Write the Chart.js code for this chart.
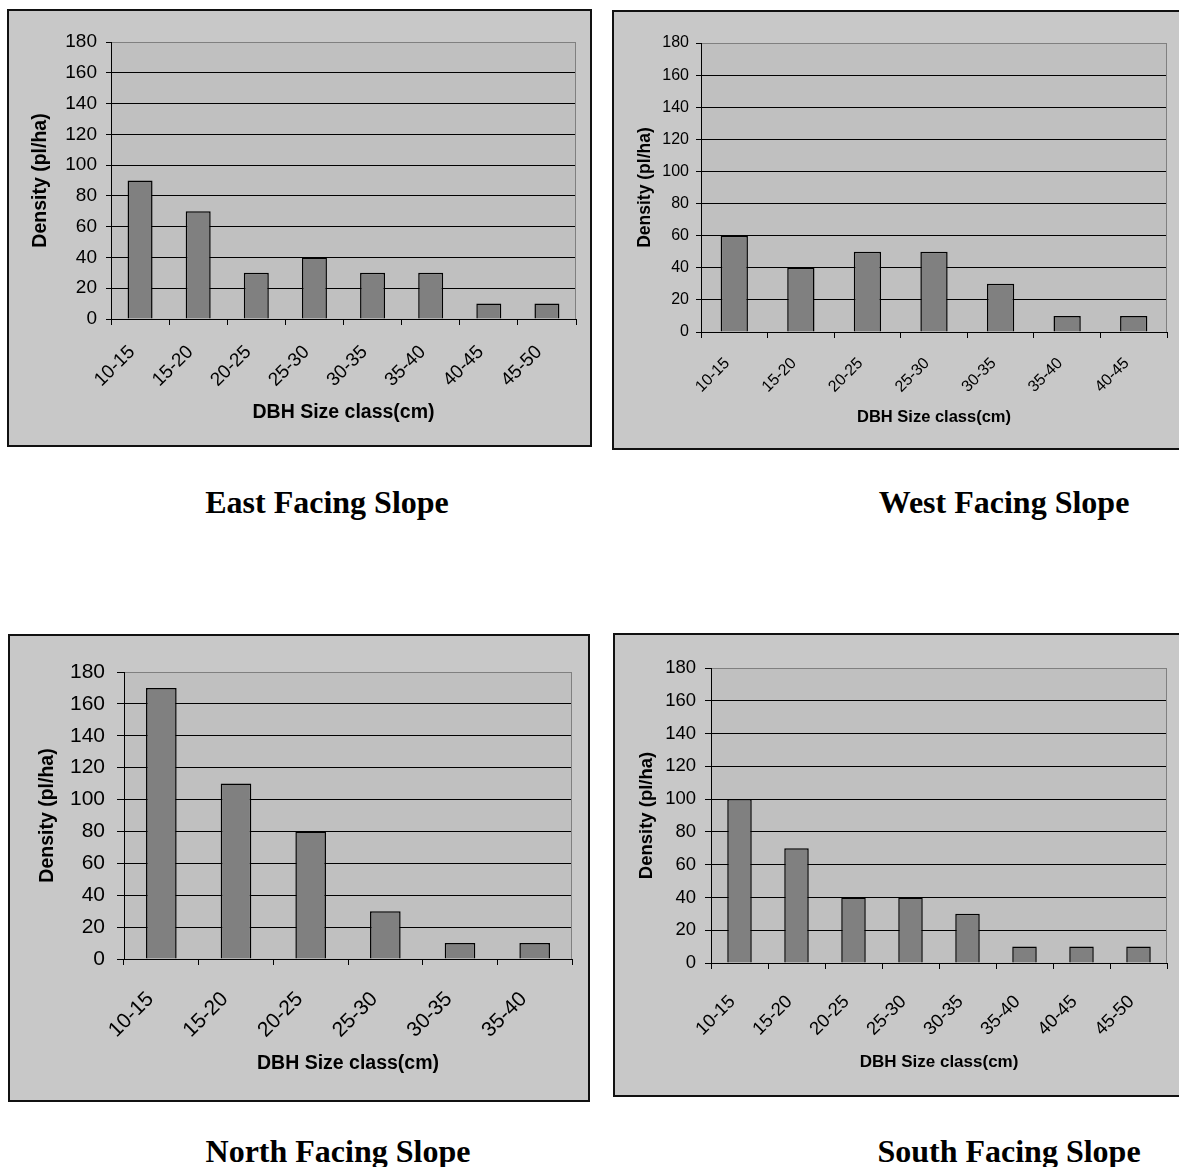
<!DOCTYPE html>
<html>
<head>
<meta charset="utf-8">
<script src="https://cdn.jsdelivr.net/npm/chart.js@4/dist/chart.umd.min.js"></script>
<style>
  html, body { margin: 0; padding: 0; background: #fff; }
  body { width: 1179px; height: 1167px; position: relative; overflow: hidden; }
  .frame { position: absolute; box-sizing: border-box; border: 2px solid #111; background: #c8c8c8; }
  .frame canvas { position: absolute; left: 0; top: 0; }
  .caption { position: absolute; font-family: "Liberation Serif", "Times New Roman", serif; font-weight: bold;
             font-size: 32px; color: #000; white-space: nowrap; transform: translateX(-50%); line-height: 1; }
</style>
</head>
<body>
<div class="frame" id="fEast"><canvas id="cEast"></canvas></div>
<div class="frame" id="fWest"><canvas id="cWest"></canvas></div>
<div class="frame" id="fNorth"><canvas id="cNorth"></canvas></div>
<div class="frame" id="fSouth"><canvas id="cSouth"></canvas></div>
<div class="caption" id="tEast">East Facing Slope</div>
<div class="caption" id="tWest">West Facing Slope</div>
<div class="caption" id="tNorth">North Facing Slope</div>
<div class="caption" id="tSouth">South Facing Slope</div>
<script>
// DBH size classes (cm) and stand density (plants per hectare) by slope aspect
const classesEast  = ['10-15', '15-20', '20-25', '25-30', '30-35', '35-40', '40-45', '45-50'];
const densityEast  = [90, 70, 30, 40, 30, 30, 10, 10];

const classesWest  = ['10-15', '15-20', '20-25', '25-30', '30-35', '35-40', '40-45'];
const densityWest  = [60, 40, 50, 50, 30, 10, 10];

const classesNorth = ['10-15', '15-20', '20-25', '25-30', '30-35', '35-40'];
const densityNorth = [170, 110, 80, 30, 10, 10];

const classesSouth = ['10-15', '15-20', '20-25', '25-30', '30-35', '35-40', '40-45', '45-50'];
const densitySouth = [100, 70, 40, 40, 30, 10, 10, 10];

const densityTicks = [0, 20, 40, 60, 80, 100, 120, 140, 160, 180];
const yAxisTitle = 'Density (pl/ha)';
const xAxisTitle = 'DBH Size class(cm)';

const SANS = '"Liberation Sans", Arial, sans-serif';

// Frame boxes and plot geometry for each panel (page pixels)
const panels = [
  { id: 'East', labels: classesEast, values: densityEast,
    frame: { x: 7, y: 9, w: 585, h: 438 }, caption: { x: 327, y: 486 },
    plot: { l: 102, t: 31, r: 567, b: 308 }, yTitleX: 32, xTitleY: 402,
    tickFont: 19, yTitleFont: 19.5, xTitleFont: 19.5, yTickPad: 9, yTickLen: 5, xPad: 16, xOffset: -8, bar: 0.43 },
  { id: 'West', labels: classesWest, values: densityWest,
    frame: { x: 612, y: 10, w: 578, h: 440 }, caption: { x: 1004, y: 486 },
    plot: { l: 87, t: 31, r: 553, b: 320 }, yTitleX: 31, xTitleY: 405,
    tickFont: 16, yTitleFont: 17.5, xTitleFont: 16.5, yTickPad: 7, yTickLen: 5, xPad: 16, xOffset: -7, bar: 0.41 },
  { id: 'North', labels: classesNorth, values: densityNorth,
    frame: { x: 8, y: 634, w: 582, h: 468 }, caption: { x: 338, y: 1135 },
    plot: { l: 114, t: 36, r: 562, b: 323 }, yTitleX: 38, xTitleY: 428,
    tickFont: 21, yTitleFont: 19.5, xTitleFont: 19.5, yTickPad: 12, yTickLen: 7, xPad: 22, xOffset: -11, bar: 0.41 },
  { id: 'South', labels: classesSouth, values: densitySouth,
    frame: { x: 613, y: 633, w: 577, h: 464 }, caption: { x: 1009, y: 1135 },
    plot: { l: 96, t: 33, r: 552, b: 328 }, yTitleX: 32, xTitleY: 427,
    tickFont: 18.5, yTitleFont: 18.5, xTitleFont: 17, yTickPad: 9, yTickLen: 6, xPad: 22, xOffset: -7, bar: 0.43 }
];

// Plot-area fill and the grey right-hand border of the plot area
const plotBackground = {
  id: 'plotBackground',
  beforeDraw(chart) {
    const { ctx, chartArea: a } = chart;
    ctx.save();
    ctx.fillStyle = '#c0c0c0';
    ctx.fillRect(a.left, a.top, a.right - a.left, a.bottom - a.top);
    ctx.restore();
  },
  afterDatasetsDraw(chart) {
    const { ctx, chartArea: a } = chart;
    ctx.save();
    ctx.strokeStyle = '#808080';
    ctx.lineWidth = 1;
    ctx.beginPath();
    const x = Math.round(a.right) - 0.5;
    ctx.moveTo(x, a.top);
    ctx.lineTo(x, a.bottom);
    ctx.stroke();
    ctx.restore();
  }
};

panels.forEach(p => {
  const frame = document.getElementById('f' + p.id);
  Object.assign(frame.style, {
    left: p.frame.x + 'px', top: p.frame.y + 'px',
    width: p.frame.w + 'px', height: p.frame.h + 'px'
  });
  const cap = document.getElementById('t' + p.id);
  cap.style.left = p.caption.x + 'px';
  cap.style.top = p.caption.y + 'px';

  const cw = p.frame.w - 4, ch = p.frame.h - 4;
  const canvas = document.getElementById('c' + p.id);
  canvas.width = cw; canvas.height = ch;

  const padLeft = p.yTitleX - p.yTitleFont * 0.6;
  const padBottom = ch - p.xTitleY - p.xTitleFont * 0.6;
  const yWidth = p.plot.l - padLeft;
  const xHeight = (ch - padBottom) - p.plot.b;

  new Chart(canvas, {
    type: 'bar',
    data: {
      labels: p.labels,
      datasets: [{
        data: p.values,
        backgroundColor: '#808080',
        borderColor: '#000',
        borderWidth: 1.5,
        borderSkipped: 'start',
        barPercentage: p.bar,
        categoryPercentage: 1.0
      }]
    },
    options: {
      responsive: false,
      animation: false,
      devicePixelRatio: 1,
      layout: { padding: { left: padLeft, top: p.plot.t, right: cw - p.plot.r, bottom: padBottom } },
      plugins: { legend: { display: false }, tooltip: { enabled: false }, title: { display: false } },
      scales: {
        x: {
          offset: true,
          grid: { display: true, drawOnChartArea: false, drawTicks: true, tickLength: 6, color: '#000', offset: true },
          border: { display: true, color: '#000', width: 1, z: 1 },
          ticks: {
            autoSkip: false, minRotation: 45, maxRotation: 45, color: '#000',
            padding: p.xPad, labelOffset: p.xOffset,
            font: { family: SANS, size: p.tickFont }
          },
          title: { display: true, text: xAxisTitle, color: '#000', padding: 0,
                   font: { family: SANS, size: p.xTitleFont, weight: 'bold' } },
          afterFit(s) { s.height = xHeight; }
        },
        y: {
          min: 0, max: 180,
          afterBuildTicks(s) { s.ticks = densityTicks.map(v => ({ value: v })); },
          grid: {
            color: c => (c.tick && c.tick.value === 180) ? '#808080' : '#000',
            tickColor: '#000', tickLength: p.yTickLen, lineWidth: 1, drawTicks: true
          },
          border: { display: true, color: '#000', width: 1 },
          ticks: { color: '#000', padding: p.yTickPad, font: { family: SANS, size: p.tickFont } },
          title: { display: true, text: yAxisTitle, color: '#000', padding: 0,
                   font: { family: SANS, size: p.yTitleFont, weight: 'bold' } },
          afterFit(s) { s.width = yWidth; }
        }
      }
    },
    plugins: [plotBackground]
  });
});
</script>
</body>
</html>
